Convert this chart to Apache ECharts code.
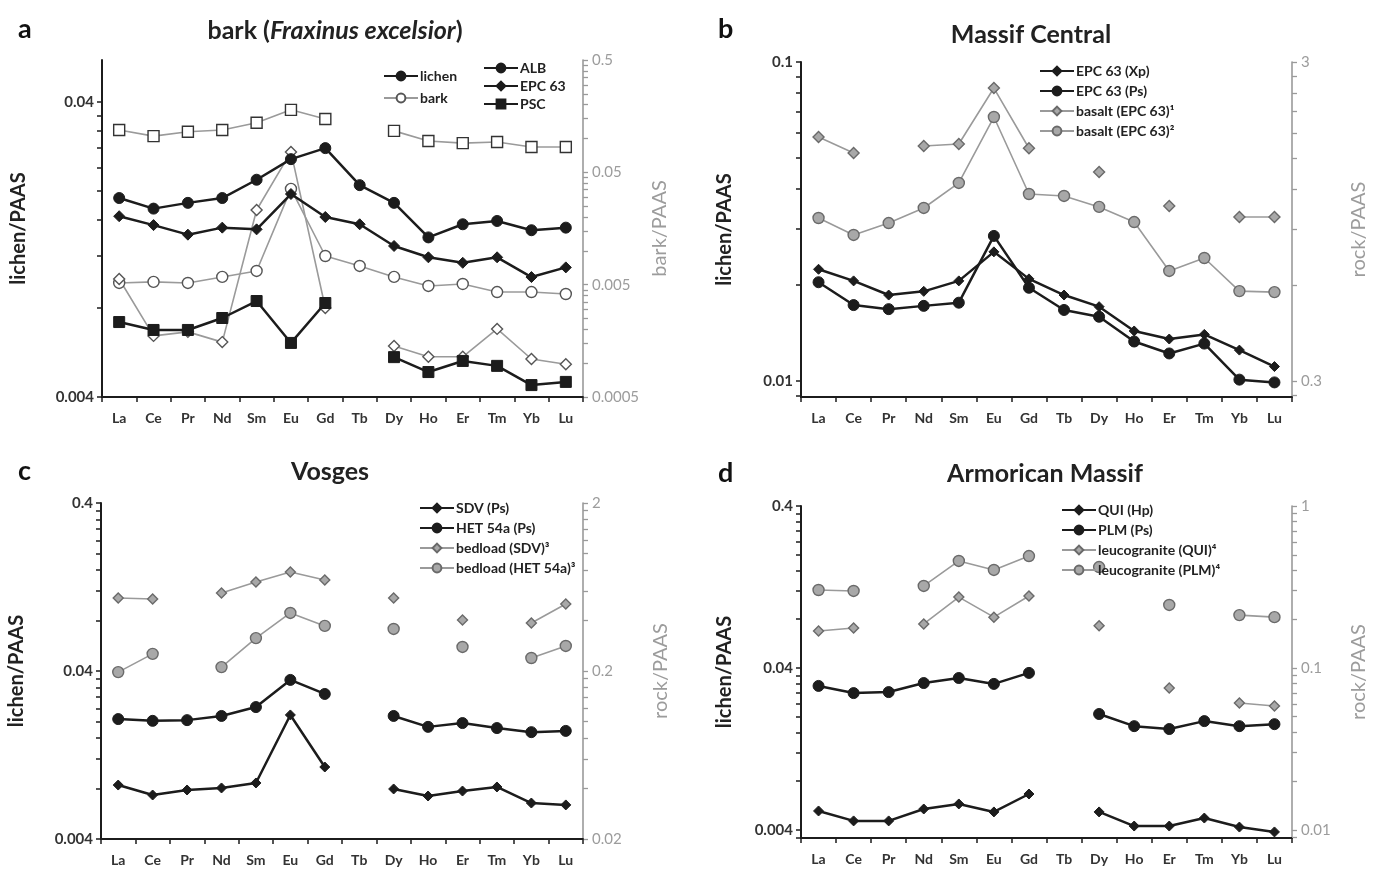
<!DOCTYPE html>
<html><head><meta charset="utf-8">
<script src="https://cdn.jsdelivr.net/npm/echarts@6/dist/echarts.min.js"></script>
<style>html,body{margin:0;padding:0;background:#fff}#c{width:1374px;height:870px}</style>
</head><body><div id="c"></div><script>
// ---------------- data ----------------
const elements = ['La','Ce','Pr','Nd','Sm','Eu','Gd','Tb','Dy','Ho','Er','Tm','Yb','Lu'];

// panel a : bark (Fraxinus excelsior)
const aLichenALB = [0.0189,0.0174,0.0182,0.0189,0.0218,0.0256,0.0279,0.0209,0.0182,0.0139,0.0154,0.0158,0.0147,0.0150];
const aLichenEPC = [0.0164,0.0153,0.0142,0.0150,0.0148,0.0195,0.0163,0.0154,0.0130,0.0119,0.0114,0.0119,0.0102,0.0110];
const aLichenPSC = [0.00718,0.00675,0.00675,0.00741,0.00846,0.0061,0.00833,null,0.00546,0.00486,0.0053,0.0051,0.00439,0.0045];
const aBarkALB = [0.00518,0.00529,0.00518,0.00586,0.00662,0.0356,0.0090,0.00734,0.00586,0.00487,0.00507,0.0043,0.0043,0.00413];
const aBarkEPC = [0.00562,0.00175,0.0019,0.00154,0.0231,0.076,0.0031,null,0.00142,0.00114,0.00114,0.00202,0.00109,0.00098];
const aBarkPSC = [0.119,0.105,0.115,0.119,0.138,0.180,0.149,null,0.117,0.095,0.091,0.093,0.084,0.084];
const aLeftTicks = [0.004, 0.04];
const aRightTicks = [0.0005, 0.005, 0.05, 0.5];

// panel b : Massif Central
const bEPCXp = [0.0224,0.0206,0.0186,0.0191,0.0206,0.0254,0.0209,0.0186,0.0171,0.01435,0.01354,0.0140,0.0125,0.0111];
const bEPCPs = [0.0204,0.0173,0.0168,0.0172,0.0176,0.0285,0.0196,0.0167,0.0159,0.0133,0.0122,0.0131,0.0101,0.0099];
const bBasalt1 = [1.746,1.556,null,1.636,1.66,2.486,1.61,null,1.356,null,1.061,null,0.98,0.98];
const bBasalt2 = [0.973,0.861,0.938,1.046,1.253,2.017,1.157,1.141,1.054,0.945,0.664,0.729,0.574,0.570];
const bLeftTicks = [0.01, 0.1];
const bRightTicks = [0.3, 3];

// panel c : Vosges
const cSDV = [0.00838,0.00731,0.00783,0.00805,0.00862,0.0219,0.01073,null,0.00794,0.00721,0.00772,0.00816,0.00655,0.00638];
const cHET = [0.0207,0.0202,0.0204,0.0216,0.0244,0.0354,0.0292,null,0.0216,0.0186,0.0196,0.0183,0.0173,0.0176];
const cBedSDV = [0.544,0.537,null,0.583,0.677,0.777,0.696,null,0.544,null,0.402,null,0.386,0.501];
const cBedHET = [0.197,0.253,null,0.211,0.314,0.443,0.371,null,0.356,null,0.278,null,0.239,0.282];
const cLeftTicks = [0.004, 0.04, 0.4];
const cRightTicks = [0.02, 0.2, 2];

// panel d : Armorican Massif
const dQUI = [0.00524,0.00455,0.00455,0.00539,0.00579,0.00517,0.00667,null,0.00517,0.00423,0.00423,0.00474,0.00417,0.00389];
const dPLM = [0.031,0.028,0.0284,0.0323,0.0347,0.0319,0.0373,null,0.0208,0.0175,0.0168,0.0188,0.0175,0.018];
const dLeucoQUI = [0.169,0.1765,null,0.187,0.274,0.206,0.278,null,0.182,null,0.0752,null,0.0608,0.0583];
const dLeucoPLM = [0.303,0.299,null,0.321,0.458,0.403,0.491,null,0.420,null,0.245,null,0.212,0.206];
const dLeftTicks = [0.004, 0.04, 0.4];
const dRightTicks = [0.01, 0.1, 1];

// ---------------- styling / layout ----------------
const FONT = 'Lato, "Liberation Sans", sans-serif';
const BLACK = '#1c1c1c';
const GRAYLINE = '#9a9a9a';
const GRAYFILL = '#a8a8a8';
const GRAYEDGE = '#6a6a6a';
const GRAYTXT = '#9c9c9c';

const grids = [
  {left:102, top:60, width:481, height:337},
  {left:801, top:62, width:491, height:335},
  {left:101, top:503, width:482, height:336},
  {left:801, top:506, width:491, height:332}
];

// logarithmic axes: values are placed on value axes at log10(value)
const lg = v => (v == null ? null : Math.log10(v));
const lgArr = arr => arr.map(lg);

function minorTicks(majors, min, max){
  const out = [];
  let base = majors[0] / 10;
  while (base <= max * 1.0001) {
    for (let k = 1; k <= 9; k++) {
      const v = base * k;
      if (v >= min * 0.9999 && v <= max * 1.0001) out.push(lg(v));
    }
    base *= 10;
  }
  return out;
}
function fmt(v){ return String(+Math.pow(10, v).toPrecision(3)); }

function xCat(gi){
  return {type:'category', gridIndex:gi, data:elements, boundaryGap:true,
    axisLine:{onZero:false,lineStyle:{color:BLACK,width:2}},
    axisTick:{show:true,length:5,lineStyle:{color:BLACK,width:1.5}},
    axisLabel:{color:'#333',fontSize:14,fontWeight:'bold',fontFamily:FONT,margin:14,interval:0},
    splitLine:{show:false}};
}
function yLog(gi, side, min, max, majors, name, gap){
  const left = side === 'left';
  const col = left ? BLACK : GRAYLINE;
  return {type:'value', gridIndex:gi, position:side, min:lg(min), max:lg(max),
    axisLine:{show:true,onZero:false,lineStyle:{color:col,width:left?2:1.6}},
    axisTick:{show:true,length:5,customValues:minorTicks(majors,min,max),lineStyle:{color:col,width:left?1.5:1.3}},
    axisLabel:{customValues:majors.map(lg),formatter:fmt,color:left?'#333':GRAYTXT,fontSize:15,
      fontWeight:left?'bold':'normal',fontFamily:FONT,margin:left?8:9},
    splitLine:{show:false}, minorTick:{show:false}, minorSplitLine:{show:false},
    name, nameLocation:'middle', nameGap:gap, nameRotate:90,
    nameTextStyle:{color:left?'#222':GRAYTXT,fontSize:20,fontWeight:left?'bold':'normal',fontFamily:FONT}};
}

function blk(name, gi, data, symbol, size){
  return {type:'line', name, xAxisIndex:gi, yAxisIndex:2*gi, data:lgArr(data), symbol, symbolSize:size,
    showAllSymbol:true, connectNulls:false, z:4,
    lineStyle:{color:BLACK,width:2.5}, itemStyle:{color:BLACK,borderColor:BLACK,borderWidth:1}};
}
function gry(name, gi, data, symbol, size, fill, edge){
  return {type:'line', name, xAxisIndex:gi, yAxisIndex:2*gi+1, data:lgArr(data), symbol, symbolSize:size,
    showAllSymbol:true, connectNulls:false, z:3,
    lineStyle:{color:GRAYLINE,width:1.6}, itemStyle:{color:fill,borderColor:edge,borderWidth:1.4}};
}

const series = [
  gry('ALB bark', 0, aBarkALB, 'circle', 11, '#fff', '#555'),
  gry('EPC 63 bark', 0, aBarkEPC, 'diamond', 11, '#fff', '#555'),
  gry('PSC bark', 0, aBarkPSC, 'rect', 11, '#fff', '#333'),
  blk('ALB', 0, aLichenALB, 'circle', 11),
  blk('EPC 63', 0, aLichenEPC, 'diamond', 11),
  blk('PSC', 0, aLichenPSC, 'rect', 11),
  blk('lichen', 0, [], 'circle', 11),
  gry('bark', 0, [], 'circle', 11, '#fff', '#555'),
  gry('basalt (EPC 63)¹', 1, bBasalt1, 'diamond', 11, GRAYFILL, GRAYEDGE),
  gry('basalt (EPC 63)²', 1, bBasalt2, 'circle', 11, GRAYFILL, GRAYEDGE),
  blk('EPC 63 (Xp)', 1, bEPCXp, 'diamond', 10),
  blk('EPC 63 (Ps)', 1, bEPCPs, 'circle', 11),
  gry('bedload (SDV)³', 2, cBedSDV, 'diamond', 10, GRAYFILL, GRAYEDGE),
  gry('bedload (HET 54a)³', 2, cBedHET, 'circle', 11, GRAYFILL, GRAYEDGE),
  blk('SDV (Ps)', 2, cSDV, 'diamond', 10),
  blk('HET 54a (Ps)', 2, cHET, 'circle', 11),
  gry('leucogranite (QUI)⁴', 3, dLeucoQUI, 'diamond', 10, GRAYFILL, GRAYEDGE),
  gry('leucogranite (PLM)⁴', 3, dLeucoPLM, 'circle', 11, GRAYFILL, GRAYEDGE),
  blk('QUI (Hp)', 3, dQUI, 'diamond', 10),
  blk('PLM (Ps)', 3, dPLM, 'circle', 11)
];

function leg(names, left, top, gap){
  return {data:names, left, top, orient:'vertical', itemGap:gap, itemWidth:34, itemHeight:11,
    selectedMode:false, padding:0,
    textStyle:{color:'#222',fontSize:14,fontWeight:'bold',fontFamily:FONT,padding:[0,0,0,-3]}};
}

const TT = {fontSize:25,fontWeight:'bold',color:'#222',fontFamily:FONT};
const LT = {fontSize:27,fontWeight:'bold',color:'#111',fontFamily:FONT};
const option = {
  animation:false,
  backgroundColor:'#fff',
  textStyle:{fontFamily:FONT},
  title:[
    {text:'a', left:13, top:11, textStyle:LT},
    {text:'b', left:713, top:11, textStyle:LT},
    {text:'c', left:13, top:453, textStyle:LT},
    {text:'d', left:713, top:455, textStyle:LT},
    {text:'{n|bark (}{i|Fraxinus excelsior}{n|)}', left:330, top:13, textAlign:'center',
      textStyle:{rich:{n:TT, i:Object.assign({},TT,{fontStyle:'italic'})}}},
    {text:'Massif Central', left:1026, top:17, textAlign:'center', textStyle:TT},
    {text:'Vosges', left:325, top:454, textAlign:'center', textStyle:TT},
    {text:'Armorican Massif', left:1040, top:456, textAlign:'center', textStyle:TT}
  ],
  grid: grids,
  xAxis:[xCat(0),xCat(1),xCat(2),xCat(3)],
  yAxis:[
    yLog(0,'left',0.004,0.0555,aLeftTicks,'lichen/PAAS',73),
    yLog(0,'right',0.0005,0.5,aRightTicks,'bark/PAAS',67),
    yLog(1,'left',0.00891,0.1,bLeftTicks,'lichen/PAAS',66),
    yLog(1,'right',0.2673,3,bRightTicks,'rock/PAAS',57),
    yLog(2,'left',0.004,0.4,cLeftTicks,'lichen/PAAS',74),
    yLog(2,'right',0.02,2,cRightTicks,'rock/PAAS',68),
    yLog(3,'left',0.003569,0.4,dLeftTicks,'lichen/PAAS',66),
    yLog(3,'right',0.00892,1,dRightTicks,'rock/PAAS',57)
  ],
  legend:[
    leg(['lichen','bark'], 383, 69, 8),
    leg(['ALB','EPC 63','PSC'], 483, 61, 4),
    leg(['EPC 63 (Xp)','EPC 63 (Ps)','basalt (EPC 63)¹','basalt (EPC 63)²'], 1039, 64, 6),
    leg(['SDV (Ps)','HET 54a (Ps)','bedload (SDV)³','bedload (HET 54a)³'], 419, 501, 6),
    leg(['QUI (Hp)','PLM (Ps)','leucogranite (QUI)⁴','leucogranite (PLM)⁴'], 1061, 503, 6)
  ],
  series
};
const chart = echarts.init(document.getElementById('c'), null, {renderer:'canvas'});
chart.setOption(option);
</script></body></html>
